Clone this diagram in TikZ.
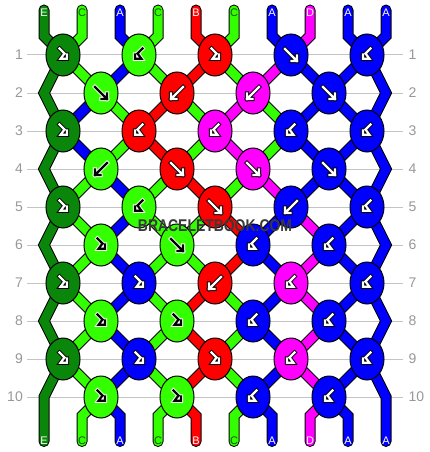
\documentclass[tikz,border=0pt]{standalone}
\usepackage{fontspec}
\setmainfont{Liberation Sans}
\usetikzlibrary{shapes.geometric}
\definecolor{dg}{HTML}{0A870A}
\definecolor{lg}{HTML}{33FF00}
\definecolor{bl}{HTML}{0000FF}
\definecolor{rd}{HTML}{FF0000}
\definecolor{mg}{HTML}{FF00FF}
\definecolor{ctext}{HTML}{0A5A0A}
\definecolor{rowgray}{HTML}{989898}
\definecolor{gridgray}{HTML}{C4C4C4}
\definecolor{wmgray}{HTML}{3A3A3A}
\tikzset{
  knot/.style={ellipse, draw=black, line width=1pt, minimum width=34pt, minimum height=42pt, inner sep=0pt},
  gridline/.style={draw=gridgray, line width=1pt},
  rowlab/.style={font=\fontsize{14}{14}\selectfont, text=rowgray, inner sep=0pt},
  slab/.style={font=\fontsize{11}{11}\selectfont, inner sep=0pt, anchor=base},
  wm/.style={font=\fontsize{17}{17}\selectfont\bfseries, inner sep=0pt},
  icon/.style={line cap=rect, line join=miter},
  pics/kf/.style args={#1/#2}{code={
    \draw[icon, line width=4.2pt, draw=#2] (-6,-6) -- (6,6) (0.5,6) -- (6,6) -- (6,0.5);
    \draw[icon, line width=2.2pt, draw=#1] (-6,-6) -- (6,6) (0.5,6) -- (6,6) -- (6,0.5);
  }},
  pics/kb/.style args={#1/#2}{code={
    \draw[icon, line width=4.2pt, draw=#2] (6,-6) -- (-6,6) (-0.5,6) -- (-6,6) -- (-6,0.5);
    \draw[icon, line width=2.2pt, draw=#1] (6,-6) -- (-6,6) (-0.5,6) -- (-6,6) -- (-6,0.5);
  }},
  pics/kfb/.style args={#1/#2}{code={
    \draw[icon, line width=4.2pt, draw=#2] (-3.5,-6.5) -- (1.5,-1.5) -- (-2.5,3.8) -- (4,3.8) -- (4,-0.5);
    \draw[icon, line width=2.2pt, draw=#1] (-3.5,-6.5) -- (1.5,-1.5) -- (-2.5,3.8) -- (4,3.8) -- (4,-0.5);
  }},
  pics/kbf/.style args={#1/#2}{code={
    \draw[icon, line width=4.2pt, draw=#2] (3.5,-6.5) -- (-1.5,-1.5) -- (2.5,3.8) -- (-4,3.8) -- (-4,-0.5);
    \draw[icon, line width=2.2pt, draw=#1] (3.5,-6.5) -- (-1.5,-1.5) -- (2.5,3.8) -- (-4,3.8) -- (-4,-0.5);
  }},
}
\newcommand\oddtr[9]{%
 \pgfmathtruncatemacro\nx{#1+1}%
 \draw[strand=#2] (k#1-1) -- (k\nx-1);
 \draw[strand=#3] (k#1-2) -- (k\nx-1);
 \draw[strand=#4] (k#1-2) -- (k\nx-2);
 \draw[strand=#5] (k#1-3) -- (k\nx-2);
 \draw[strand=#6] (k#1-3) -- (k\nx-3);
 \draw[strand=#7] (k#1-4) -- (k\nx-3);
 \draw[strand=#8] (k#1-4) -- (k\nx-4);
 \draw[strand=#9] (k#1-5) -- (k\nx-4);
}
\newcommand\eventr[9]{%
 \pgfmathtruncatemacro\nx{#1+1}%
 \draw[strand=#2] (k#1-1) -- (k\nx-1);
 \draw[strand=#3] (k#1-1) -- (k\nx-2);
 \draw[strand=#4] (k#1-2) -- (k\nx-2);
 \draw[strand=#5] (k#1-2) -- (k\nx-3);
 \draw[strand=#6] (k#1-3) -- (k\nx-3);
 \draw[strand=#7] (k#1-3) -- (k\nx-4);
 \draw[strand=#8] (k#1-4) -- (k\nx-4);
 \draw[strand=#9] (k#1-4) -- (k\nx-5);
}
\newcommand\allstrands{%
 \draw[strand=dg] (t0) -- (tb0) -- (k1-1) -- (eL2) -- (k3-1) -- (eL4) -- (k5-1) -- (eL6) -- (k7-1) -- (eL8) -- (k9-1) -- (eL10) -- (b0);
 \draw[strand=bl] (t9) -- (tb9) -- (k1-5) -- (eR2) -- (k3-5) -- (eR4) -- (k5-5) -- (eR6) -- (k7-5) -- (eR8) -- (k9-5) -- (eR10) -- (b9);
 \draw[strand=lg] (t1) -- (tb1) -- (k1-1);
 \draw[strand=bl] (t2) -- (tb2) -- (k1-2);
 \draw[strand=lg] (t3) -- (tb3) -- (k1-2);
 \draw[strand=rd] (t4) -- (tb4) -- (k1-3);
 \draw[strand=lg] (t5) -- (tb5) -- (k1-3);
 \draw[strand=bl] (t6) -- (tb6) -- (k1-4);
 \draw[strand=mg] (t7) -- (tb7) -- (k1-4);
 \draw[strand=bl] (t8) -- (tb8) -- (k1-5);
 \draw[strand=lg] (k10-1) -- (bb1) -- (b1);
 \draw[strand=bl] (k10-1) -- (bb2) -- (b2);
 \draw[strand=lg] (k10-2) -- (bb3) -- (b3);
 \draw[strand=rd] (k10-2) -- (bb4) -- (b4);
 \draw[strand=lg] (k10-3) -- (bb5) -- (b5);
 \draw[strand=bl] (k10-3) -- (bb6) -- (b6);
 \draw[strand=mg] (k10-4) -- (bb7) -- (b7);
 \draw[strand=bl] (k10-4) -- (bb8) -- (b8);
 \oddtr{1}{lg}{bl}{lg}{rd}{lg}{mg}{bl}{bl}
 \eventr{2}{bl}{lg}{rd}{lg}{mg}{lg}{bl}{bl}
 \oddtr{3}{bl}{lg}{rd}{lg}{mg}{lg}{bl}{bl}
 \eventr{4}{lg}{bl}{lg}{rd}{lg}{mg}{bl}{bl}
 \oddtr{5}{lg}{bl}{lg}{lg}{rd}{bl}{mg}{bl}
 \eventr{6}{lg}{bl}{lg}{lg}{rd}{bl}{mg}{bl}
 \oddtr{7}{lg}{bl}{lg}{rd}{lg}{bl}{mg}{bl}
 \eventr{8}{lg}{bl}{lg}{rd}{lg}{bl}{mg}{bl}
 \oddtr{9}{lg}{bl}{lg}{rd}{lg}{bl}{mg}{bl}
}
\newcommand\kt[4]{\node[knot,fill=#2] (n#1) at (k#1) {}; \pic at (k#1) {#3=#4};}
\begin{document}
\begin{tikzpicture}[x=1pt,y=-1pt]
\useasboundingbox (0,0) rectangle (430,452);
\fill[white] (0,0) rectangle (430,452);
% coordinates
\foreach \ro in {1,3,5,7,9} \foreach \co in {1,...,5}
  \coordinate (k\ro-\co) at ({63+76*(\co-1)},{55+38*(\ro-1)});
\foreach \ro in {2,4,6,8,10} {
  \foreach \co in {1,...,4}
    \coordinate (k\ro-\co) at ({101+76*(\co-1)},{55+38*(\ro-1)});
  \coordinate (eL\ro) at (44,{55+38*(\ro-1)});
  \coordinate (eR\ro) at (386,{55+38*(\ro-1)});
}
\foreach \p in {0,...,9} {
  \coordinate (t\p) at ({44+38*\p},10);
  \coordinate (tb\p) at ({44+38*\p},36);
  \coordinate (bb\p) at ({44+38*\p},416);
  \coordinate (b\p) at ({44+38*\p},441.5);
}
% grid lines and row numbers
\foreach \ro in {1,...,10} {
  \draw[gridline] (27,{55+38*(\ro-1)}) -- (403,{55+38*(\ro-1)});
  \node[rowlab,anchor=base east] (rll\ro) at (23,{59.5+38*(\ro-1)}) {\ro};
  \node[rowlab,anchor=base west] (rlr\ro) at (408.5,{59.5+38*(\ro-1)}) {\ro};
}
% strands: outline pass then colour pass
\tikzset{strand/.style={draw=black, line width=11pt, line cap=round, line join=miter}}
\allstrands
\tikzset{strand/.style={draw=#1, line width=9pt, line cap=round, line join=miter}}
\allstrands
% string labels
\foreach \p/\lt/\cc in {0/E/white,1/C/ctext,2/A/white,3/C/ctext,4/B/white,5/C/ctext,6/A/white,7/D/white,8/A/white,9/A/white} {
  \node[slab,text=\cc] (lbT\p) at ({44+38*\p},16.3) {\lt};
  \node[slab,text=\cc] (lbB\p) at ({44+38*\p},444) {\lt};
}
% knots
\kt{1-1}{dg}{kfb}{white/black}
\kt{1-2}{lg}{kbf}{black/white}
\kt{1-3}{rd}{kfb}{white/black}
\kt{1-4}{bl}{kf}{white/black}
\kt{1-5}{bl}{kbf}{white/black}
\kt{2-1}{lg}{kf}{black/white}
\kt{2-2}{rd}{kb}{white/black}
\kt{2-3}{mg}{kb}{white/black}
\kt{2-4}{bl}{kf}{white/black}
\kt{3-1}{dg}{kfb}{white/black}
\kt{3-2}{rd}{kbf}{white/black}
\kt{3-3}{mg}{kbf}{white/black}
\kt{3-4}{bl}{kbf}{white/black}
\kt{3-5}{bl}{kbf}{white/black}
\kt{4-1}{lg}{kb}{black/white}
\kt{4-2}{rd}{kf}{white/black}
\kt{4-3}{mg}{kf}{white/black}
\kt{4-4}{bl}{kf}{white/black}
\kt{5-1}{dg}{kfb}{white/black}
\kt{5-2}{lg}{kbf}{black/white}
\kt{5-3}{rd}{kf}{white/black}
\kt{5-4}{bl}{kb}{white/black}
\kt{5-5}{bl}{kbf}{white/black}
\kt{6-1}{lg}{kfb}{black/white}
\kt{6-2}{lg}{kf}{black/white}
\kt{6-3}{bl}{kbf}{white/black}
\kt{6-4}{bl}{kbf}{white/black}
\kt{7-1}{dg}{kfb}{white/black}
\kt{7-2}{bl}{kfb}{white/black}
\kt{7-3}{rd}{kb}{white/black}
\kt{7-4}{mg}{kbf}{white/black}
\kt{7-5}{bl}{kbf}{white/black}
\kt{8-1}{lg}{kfb}{black/white}
\kt{8-2}{lg}{kfb}{black/white}
\kt{8-3}{bl}{kbf}{white/black}
\kt{8-4}{bl}{kbf}{white/black}
\kt{9-1}{dg}{kfb}{white/black}
\kt{9-2}{bl}{kfb}{white/black}
\kt{9-3}{rd}{kfb}{white/black}
\kt{9-4}{mg}{kbf}{white/black}
\kt{9-5}{bl}{kbf}{white/black}
\kt{10-1}{lg}{kfb}{black/white}
\kt{10-2}{lg}{kfb}{black/white}
\kt{10-3}{bl}{kbf}{white/black}
\kt{10-4}{bl}{kbf}{white/black}
% watermark
\node[wm,text=wmgray] (wmark) at (215,225.5) {\scalebox{0.82}[1]{BRACELETBOOK.COM}};
\end{tikzpicture}
\end{document}
